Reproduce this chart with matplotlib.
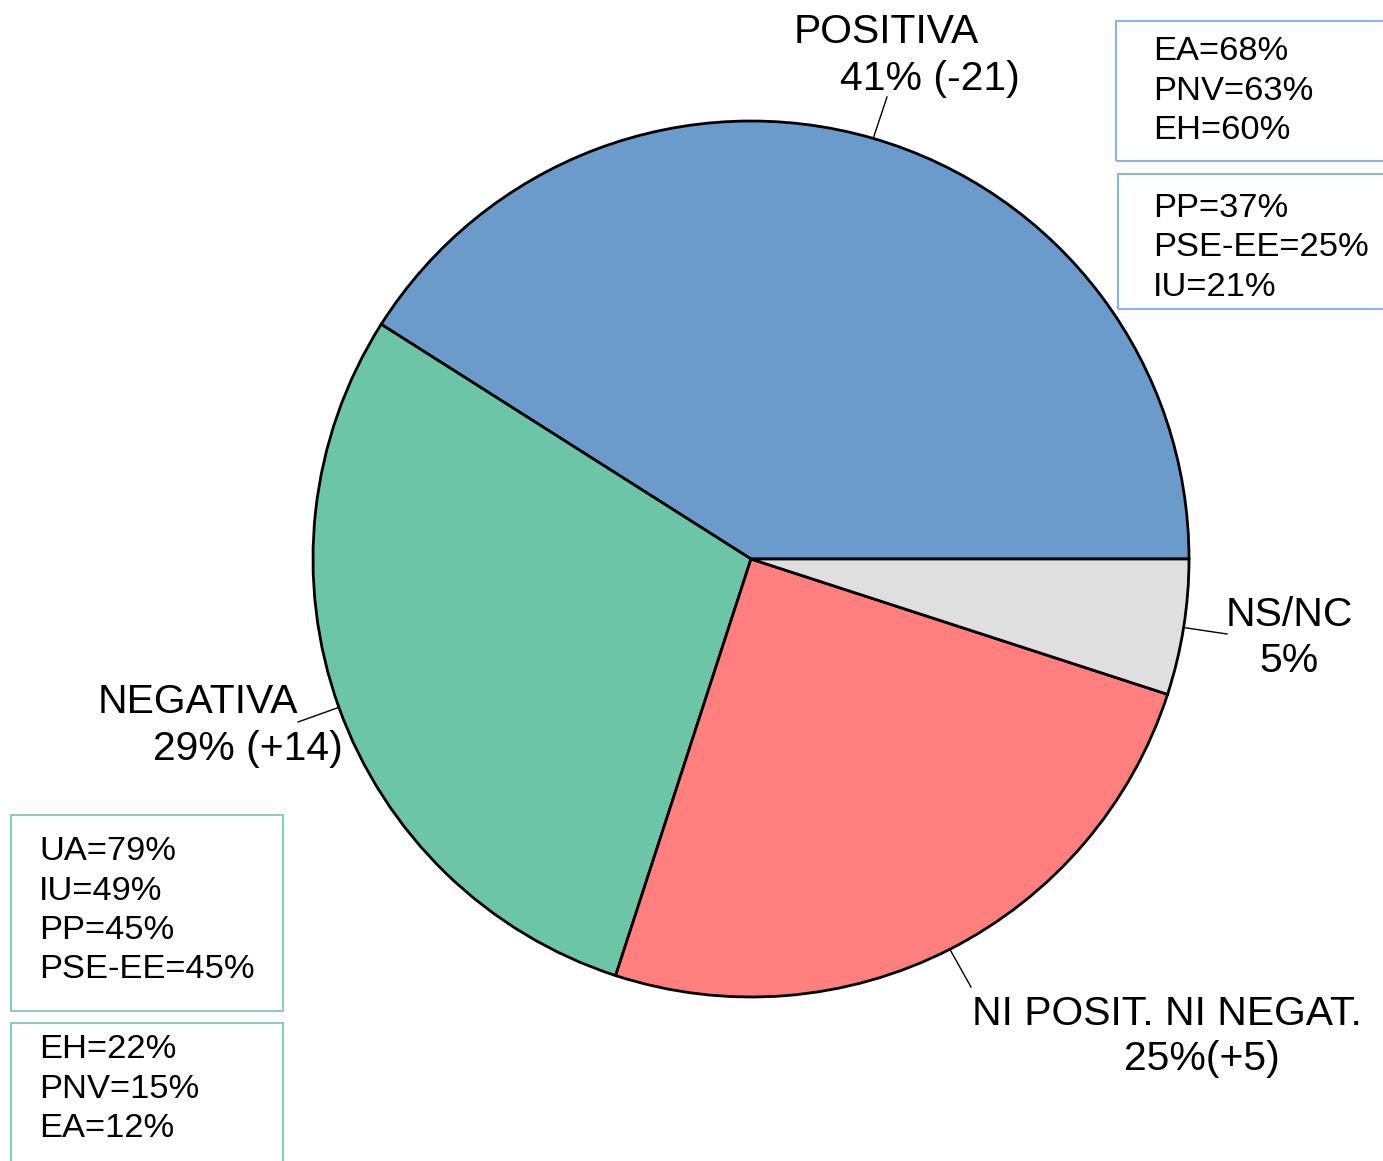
import numpy as np
import matplotlib.pyplot as plt
from matplotlib.patches import Rectangle

plt.rcParams['font.family'] = ['Liberation Sans', 'DejaVu Sans']

# data
categories = ['POSITIVA', 'NEGATIVA', 'NI POSIT. NI NEGAT.', 'NS/NC']
values = [41, 29, 25, 5]
changes = ['(-21)', '(+14)', '(+5)', '']
colors = ['#6a9bcb', '#6dc5a8', '#ff7f7f', '#dfdfdf']

box_pos_high = ['EA=68%', 'PNV=63%', 'EH=60%']
box_pos_low = ['PP=37%', 'PSE-EE=25%', 'IU=21%']
box_neg_high = ['UA=79%', 'IU=49%', 'PP=45%', 'PSE-EE=45%']
box_neg_low = ['EH=22%', 'PNV=15%', 'EA=12%']

W, H = 1383, 1161


def Y(y):
    # pixel row (from top) -> data y
    return H - y


def main():
    fig = plt.figure(figsize=(W / 100, H / 100), dpi=100)
    ax = fig.add_axes([0, 0, 1, 1])

    cx, cy, r = 751, Y(559), 438
    wedges, _ = ax.pie(values, colors=colors, startangle=0, counterclock=True,
                       center=(cx, cy), radius=r,
                       wedgeprops=dict(edgecolor='black', linewidth=2))
    ax.set_xlim(0, W)
    ax.set_ylim(0, H)
    ax.set_aspect('auto')
    ax.axis('off')

    # label layout: (line1 text, x1, baseline1, line2 text, x2, baseline2, leader end)
    fs = 29.4
    layout = [
        ('POSITIVA', 886, 43, '41% (-21)', 930, 90, (887, 97)),
        ('NEGATIVA', 198, 713, '29% (+14)', 248, 760, (298, 722)),
        ('NI POSIT. NI NEGAT.', 1167, 1025, '25%(+5)', 1202, 1070, (971, 987)),
        ('NS/NC', 1289, 626, '5%', 1289, 672, (1227, 634)),
    ]
    for w, (l1, x1, b1, l2, x2, b2, end) in zip(wedges, layout):
        ang = np.deg2rad((w.theta1 + w.theta2) / 2)
        sx = cx + r * np.cos(ang)
        sy = cy + r * np.sin(ang)
        ax.plot([sx, end[0]], [sy, Y(end[1])], color='black', lw=1)
        ax.text(x1, Y(b1), l1, fontsize=fs, ha='center', va='baseline')
        ax.text(x2, Y(b2), l2, fontsize=fs, ha='center', va='baseline')

    # side boxes
    bfs = 24.8
    step = 39.5
    boxes = [
        (box_pos_high, 1116, 21, 161, 1153, 60, '#8db3e2'),
        (box_pos_low, 1118, 174, 309, 1153, 217, '#8db3e2'),
        (box_neg_high, 11, 815, 1011, 39, 860, '#8fcbb6'),
        (box_neg_low, 11, 1023, 1200, 39, 1058, '#8fcbb6'),
    ]
    for lines, bx, top, bot, tx, tb, ec in boxes:
        bw = 272 if bx < 100 else 400
        ax.add_patch(Rectangle((bx, Y(bot)), bw, bot - top, fill=False,
                               edgecolor=ec, lw=1.5, clip_on=True))
        for i, s in enumerate(lines):
            ax.text(tx, Y(tb + i * step), s, fontsize=bfs, ha='left', va='baseline')

    fig.savefig('out.png', dpi=100, facecolor='white')


if __name__ == '__main__':
    main()
